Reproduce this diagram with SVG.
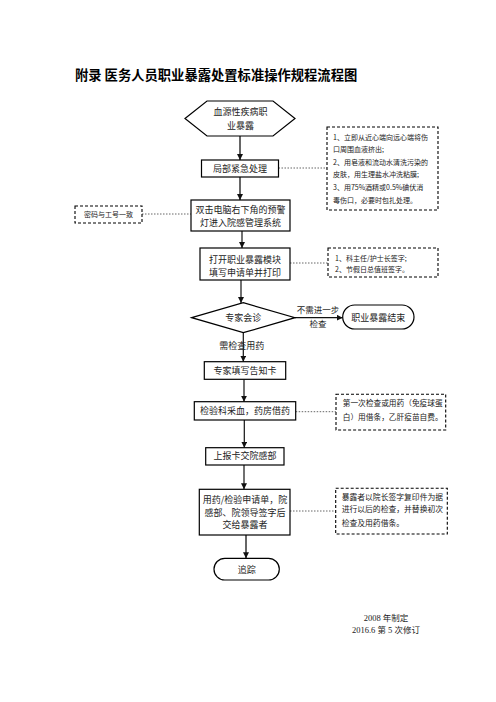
<svg xmlns="http://www.w3.org/2000/svg" width="496" height="702" viewBox="0 0 496 702">
<defs>
<style>
.t{font-family:"Noto Sans CJK SC","Liberation Serif",sans-serif;fill:#222;}
.b{font-size:9px;text-anchor:middle;}
.n{font-size:7px;}
.box{fill:#fff;stroke:#000;stroke-width:1.2;}
.note{fill:#fff;stroke:#000;stroke-width:1.1;stroke-dasharray:3 2;}
.dot{stroke:#666;stroke-width:1;stroke-dasharray:1.5 1.5;fill:none;}
.arr{stroke:#111;stroke-width:1.2;fill:none;marker-end:url(#ah);}
.arrg{stroke:#666;stroke-width:2;fill:none;marker-end:url(#ah);}
</style>
<marker id="ah" markerUnits="userSpaceOnUse" markerWidth="6" markerHeight="6" refX="6" refY="3" orient="auto">
<path d="M0,0 L6,3 L0,6 z" fill="#111"/>
</marker>
</defs>
<rect width="496" height="702" fill="#fff"/>
<text x="75" y="80" font-family="'Noto Sans CJK SC',sans-serif" font-weight="bold" font-size="13.3" fill="#000">附录 医务人员职业暴露处置标准操作规程流程图</text>

<g id="connectors">
<line class="arrg" x1="240" y1="136" x2="240" y2="160"/>
<line class="dot" x1="278.5" y1="168" x2="327" y2="168"/>
<line class="arrg" x1="240" y1="177" x2="240" y2="200"/>
<line class="dot" x1="142" y1="214" x2="191" y2="214"/>
<line class="arr" x1="242" y1="231" x2="242" y2="248"/>
<line class="dot" x1="290" y1="263" x2="328" y2="263"/>
<line class="arr" x1="241" y1="280" x2="241" y2="303"/>
<line class="arr" x1="295" y1="317.7" x2="342.7" y2="317.7"/>
<line class="arr" x1="243.3" y1="332.7" x2="243.3" y2="361.7"/>
<line class="arr" x1="244" y1="379.3" x2="244" y2="401.7"/>
<line class="dot" x1="295.7" y1="411.7" x2="336" y2="411.7"/>
<line class="arr" x1="244.3" y1="420" x2="244.3" y2="447.7"/>
<line class="arr" x1="244" y1="465" x2="244" y2="489.3"/>
<line class="dot" x1="290" y1="511" x2="335.7" y2="511"/>
<line class="arrg" x1="246" y1="535" x2="246" y2="558.3"/>
<text class="t" x="318" y="313" font-size="8.5" text-anchor="middle">不需进一步</text>
<text class="t" x="318" y="326.5" font-size="8.5" text-anchor="middle">检查</text>
<text class="t b" x="241.7" y="349.3">需检查用药</text>
</g>

<g id="n-start">
<polygon class="box" points="185,118.5 207,101 273,101 295,118.5 273,136 207,136"/>
<text class="t b" x="240.5" y="115">血源性疾病职</text>
<text class="t b" x="240.5" y="129">业暴露</text>
</g>

<g id="n-local">
<rect class="box" x="201.5" y="160" width="77" height="17"/>
<text class="t b" x="240" y="171.8">局部紧急处理</text>
</g>

<g id="note1">
<rect class="note" x="327" y="127" width="111" height="83"/>
<text class="t n" x="333" y="139.5">1、立即从近心端向远心端将伤</text>
<text class="t n" x="333" y="152">口周围血液挤出;</text>
<text class="t n" x="333" y="164.5">2、用皂液和流动水清洗污染的</text>
<text class="t n" x="333" y="177">皮肤，用生理盐水冲洗粘膜;</text>
<text class="t n" x="333" y="189.5">3、用75%酒精或0.5%碘伏消</text>
<text class="t n" x="333" y="202.5">毒伤口，必要时包扎处理。</text>
</g>

<g id="n-system">
<rect class="box" x="191" y="200" width="99" height="31"/>
<text class="t b" x="240.5" y="213">双击电脑右下角的预警</text>
<text class="t b" x="240.5" y="226">灯进入院感管理系统</text>
</g>

<g id="note-pwd">
<rect class="note" x="75" y="206" width="67" height="17"/>
<text class="t n" x="108.5" y="217" text-anchor="middle">密码与工号一致</text>
</g>

<g id="n-open">
<rect class="box" x="200" y="248" width="90" height="32"/>
<text class="t b" x="245" y="262.7">打开职业暴露模块</text>
<text class="t b" x="245" y="276">填写申请单并打印</text>
</g>

<g id="note2">
<rect class="note" x="328" y="248" width="110" height="29"/>
<text class="t n" x="335" y="260.5">1、科主任/护士长签字;</text>
<text class="t n" x="335" y="272">2、节假日总值班签字。</text>
</g>

<g id="n-consult">
<polygon class="box" points="191.7,317.7 243.3,302.7 295,317.7 243.3,332.7"/>
<text class="t b" x="243.3" y="321.3">专家会诊</text>
</g>

<g id="n-end">
<rect class="box" x="342.7" y="305" width="71.3" height="24" rx="12"/>
<text class="t b" x="378.3" y="320.5" font-size="8.7">职业暴露结束</text>
</g>

<g id="n-card">
<rect class="box" x="204.3" y="361.7" width="81.4" height="17.6"/>
<text class="t b" x="245" y="374.3">专家填写告知卡</text>
</g>

<g id="n-blood">
<rect class="box" x="194.3" y="401.7" width="101.4" height="18.3"/>
<text class="t b" x="245" y="414.3">检验科采血，药房借药</text>
</g>

<g id="note3">
<rect class="note" x="336" y="394.3" width="109.7" height="35.7"/>
<text class="t" x="342.7" y="406" font-size="7.7">第一次检查或用药（免疫球蛋</text>
<text class="t" x="342.7" y="419.5" font-size="7.7">白）用借条，乙肝疫苗自费。</text>
</g>

<g id="n-report">
<rect class="box" x="205.7" y="447.7" width="78.3" height="17.3"/>
<text class="t b" x="245" y="459.3">上报卡交院感部</text>
</g>

<g id="n-sign">
<rect class="box" x="199.3" y="489.3" width="90.7" height="45.7"/>
<text class="t b" x="245" y="502.6">用药/检验申请单，院</text>
<text class="t b" x="245" y="515.6">感部、院领导签字后</text>
<text class="t b" x="245" y="528.3">交给暴露者</text>
</g>

<g id="note4">
<rect class="note" x="335.7" y="488.3" width="111.6" height="45.7"/>
<text class="t" x="341.7" y="499.7" font-size="7.8">暴露者以院长签字复印件为据</text>
<text class="t" x="341.7" y="512.3" font-size="7.8">进行以后的检查，并替换初次</text>
<text class="t" x="341.7" y="525.7" font-size="7.8">检查及用药借条。</text>
</g>

<g id="n-track">
<rect class="box" x="214" y="558.3" width="65.3" height="21.7" rx="10.8"/>
<text class="t b" x="246.7" y="573.3">追踪</text>
</g>

<g id="footer">
<text x="386" y="621.3" font-family="'Liberation Serif','Noto Sans CJK SC',serif" font-size="8.5" fill="#222" text-anchor="middle">2008 年制定</text>
<text x="386" y="633" font-family="'Liberation Serif','Noto Sans CJK SC',serif" font-size="8.5" fill="#222" text-anchor="middle">2016.6 第 5 次修订</text>
</g>
</svg>
